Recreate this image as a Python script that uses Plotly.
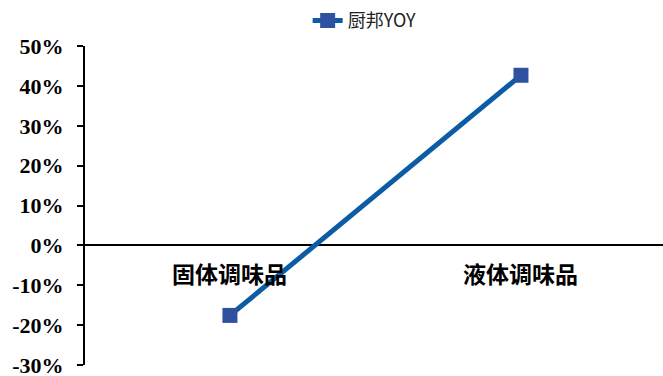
import plotly.graph_objects as go

categories = ["固体调味品", "液体调味品"]
yoy_values = [-0.176, 0.427]
series_name = "厨邦YOY"
tick_values = [-0.3, -0.2, -0.1, 0.0, 0.1, 0.2, 0.3, 0.4, 0.5]
tick_labels = ["-30%", "-20%", "-10%", "0%", "10%", "20%", "30%", "40%", "50%"]

fig = go.Figure()
fig.add_trace(go.Scatter(
    x=[0, 1], y=yoy_values, name=series_name, mode="lines+markers",
    line=dict(color="#0b5ca4", width=5),
    marker=dict(symbol="square", size=15, color="#2f52a0",
                line=dict(color="#2f52a0", width=0)),
))

# category labels just below the zero line
for i, c in enumerate(categories):
    fig.add_annotation(x=i, y=0, text=c, showarrow=False, yanchor="middle",
                       yshift=-28, xref="x", yref="y",
                       font=dict(family="Noto Sans CJK SC", size=23,
                                 color="black", weight="bold"))

fig.update_layout(
    width=663, height=376,
    margin=dict(l=85, r=0, t=46, b=11, autoexpand=False),
    plot_bgcolor="white", paper_bgcolor="white",
    showlegend=True,
    legend=dict(orientation="h", x=0.55, xanchor="center", y=0.945,
                yanchor="middle", yref="container", xref="container",
                font=dict(family="Noto Sans CJK SC", size=18, color="#222")),
    xaxis=dict(range=[-0.498, 1.488], showticklabels=False, showgrid=False,
               zeroline=False, showline=False, fixedrange=True),
    yaxis=dict(range=[-0.3005, 0.5005], tickvals=tick_values,
               ticktext=tick_labels, ticklabeloverflow="allow",
               showgrid=False, zeroline=True, zerolinecolor="black",
               zerolinewidth=2, showline=True, linecolor="black",
               linewidth=2, ticks="outside", ticklen=6, tickwidth=2,
               tickcolor="black", ticklabelstandoff=9,
               tickfont=dict(family="Liberation Serif", size=22,
                             color="black", weight="bold")),
)

fig.write_html("out.html")
